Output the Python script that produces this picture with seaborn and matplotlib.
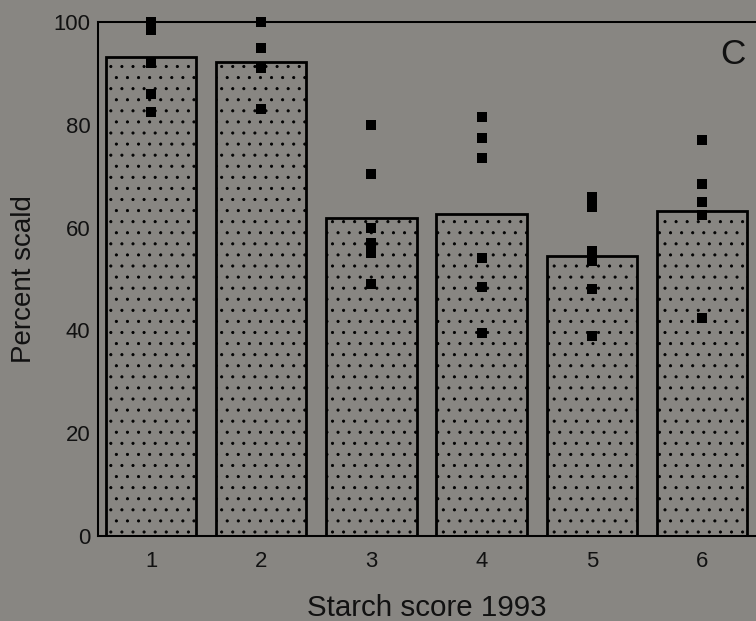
import matplotlib
matplotlib.use("Agg")
import matplotlib.pyplot as plt
import seaborn as sns
import pandas as pd

# Starch score classes (1993) and mean percent scald per class
scores = ["1", "2", "3", "4", "5", "6"]
mean_scald = [93.2, 92.2, 61.9, 62.6, 54.5, 63.2]

# Individual orchard observations (percent scald) for each starch score
obs_1 = [100, 98.5, 92, 86, 82.5]
obs_2 = [100, 95, 91, 83]
obs_3 = [80, 70.5, 60, 57, 55, 49]
obs_4 = [81.5, 77.5, 73.5, 54, 48.5, 39.5]
obs_5 = [66, 64, 55.5, 53.5, 48, 39]
obs_6 = [77, 68.5, 65, 62.5, 42.5]

panel_letter = "C"
x_title = "Starch score 1993"
y_title = "Percent scald"
y_ticks = [0, 20, 40, 60, 80, 100]

bg = "#888682"
ink = "#111111"

sns.set_theme(style="white")
plt.rcParams["font.family"] = ["Liberation Sans", "DejaVu Sans"]
plt.rcParams["hatch.linewidth"] = 0.45
plt.rcParams["hatch.color"] = "black"

bars = pd.DataFrame({"score": scores, "scald": mean_scald})
points = pd.DataFrame({
    "score": [s for s, obs in zip(scores, [obs_1, obs_2, obs_3, obs_4, obs_5, obs_6]) for _ in obs],
    "scald": obs_1 + obs_2 + obs_3 + obs_4 + obs_5 + obs_6,
})

dpi = 133
fig = plt.figure(figsize=(756 / dpi, 621 / dpi), dpi=dpi, facecolor=bg)
ax = fig.add_axes([98 / 756, 1 - 536 / 621, 1 - 98 / 756, (536 - 22) / 621])
ax.set_facecolor(bg)

sns.barplot(data=bars, x="score", y="scald", order=scores, errorbar=None,
            width=0.82, color=bg, saturation=1, edgecolor="black",
            linewidth=1.5, hatch="..", ax=ax, zorder=2)
sns.stripplot(data=points, x="score", y="scald", order=scores, jitter=False,
              marker="s", size=5.4, color="black", linewidth=0, ax=ax, zorder=4,
              clip_on=False)

ax.set_xlim(-0.481, 5.49)
ax.set_ylim(0, 100)
ax.set_yticks(y_ticks)
ax.set_yticklabels([str(t) for t in y_ticks])
ax.tick_params(axis="both", length=0, labelsize=12, colors=ink)
ax.tick_params(axis="x", pad=8)
ax.tick_params(axis="y", pad=4)

ax.set_xlabel(x_title, fontsize=16, color=ink)
ax.set_ylabel(y_title, fontsize=15, color=ink)
ax.xaxis.set_label_coords(0.5, -0.112)
ax.yaxis.set_label_coords(-0.092, 0.5)

for side in ["left", "top", "bottom"]:
    ax.spines[side].set_visible(True)
    ax.spines[side].set_color("black")
    ax.spines[side].set_linewidth(1.1)
ax.spines["right"].set_visible(False)

ax.text(5.28, 93.7, panel_letter, fontsize=19, ha="center", va="center",
        color=ink)

fig.savefig("out.png", dpi=dpi, facecolor=bg)
